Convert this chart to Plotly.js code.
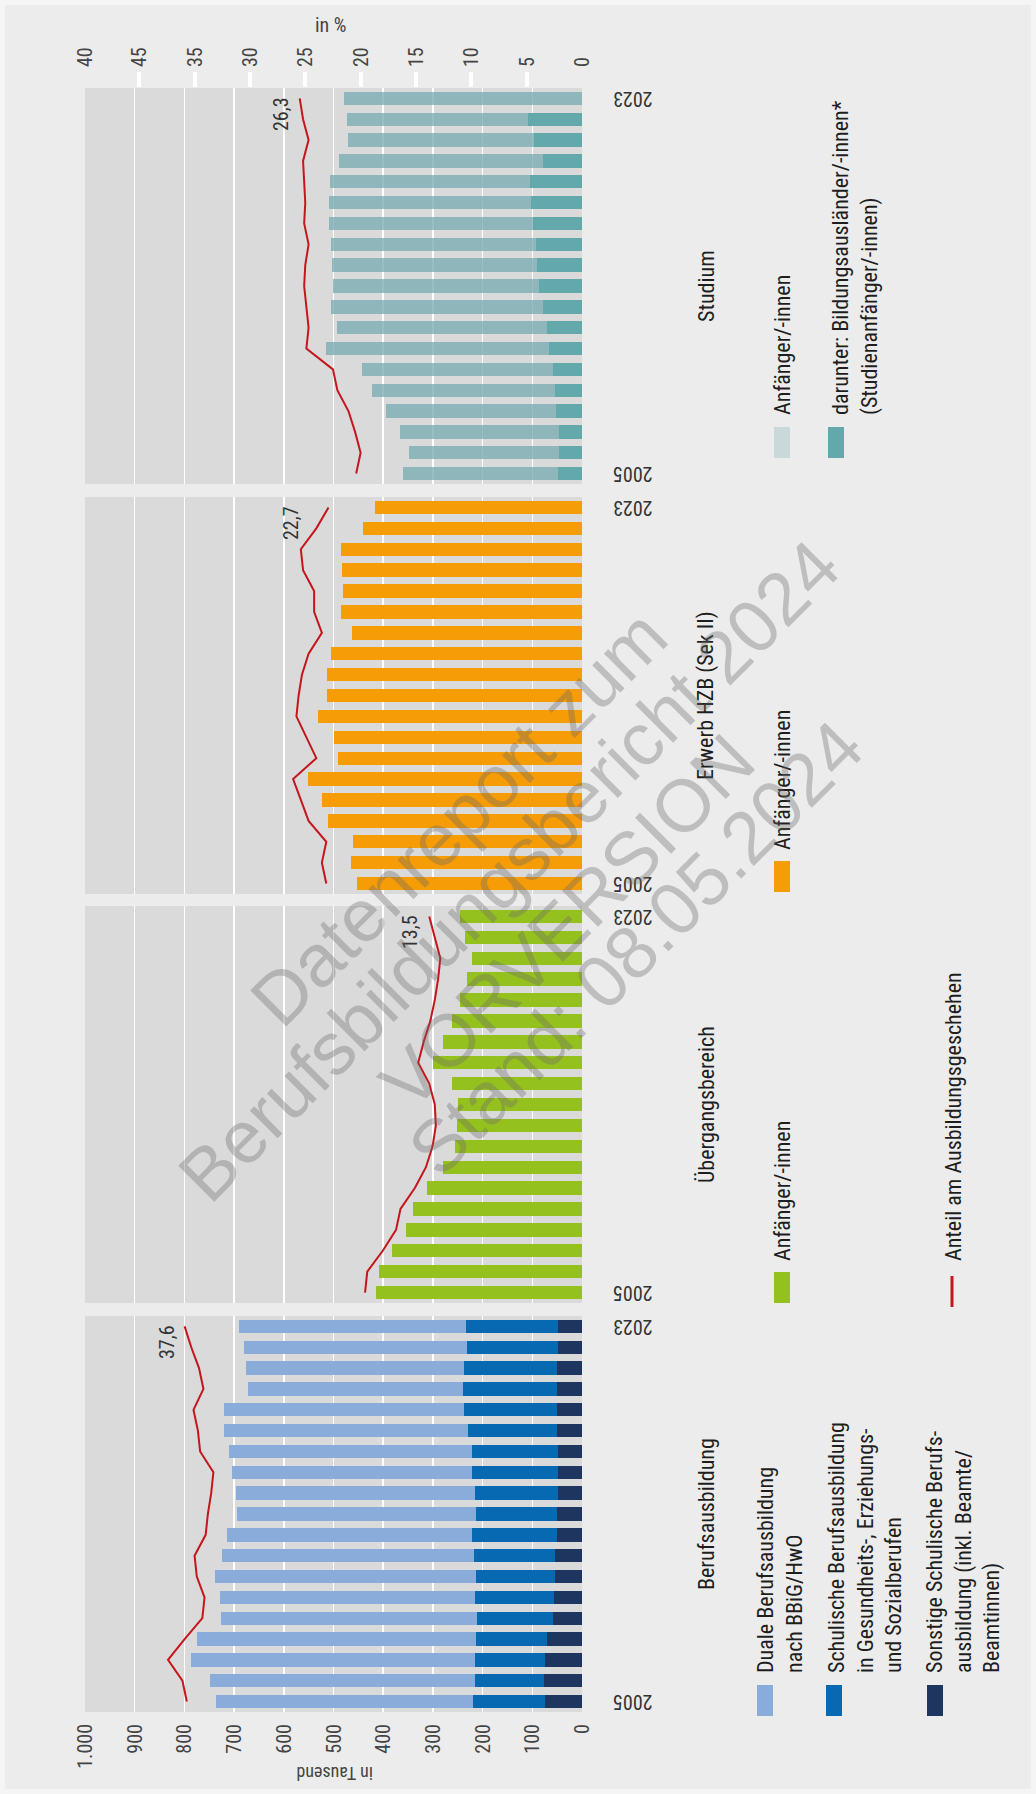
<!DOCTYPE html>
<html><head><meta charset="utf-8">
<script src="https://cdn.plot.ly/plotly-3.0.1.min.js"></script>
<style>
html,body{margin:0;padding:0;background:#ececec;overflow:hidden;width:1036px;height:1794px;}
#wrap{position:absolute;left:0;top:0;width:1794px;height:1036px;transform-origin:0 0;transform:translateY(1794px) rotate(-90deg);}
#chart{width:1794px;height:1036px;}
#frame{position:absolute;left:0;top:0;width:1036px;height:1794px;box-sizing:border-box;border:5px solid #f5f5f5;pointer-events:none;}
</style></head><body><div id="wrap"><div id="chart"></div></div><div id="frame"></div>
<script>
// ---------- DATA ----------
const years = [2005,2006,2007,2008,2009,2010,2011,2012,2013,2014,2015,2016,2017,2018,2019,2020,2021,2022,2023];
// Berufsausbildung (in Tausend)
const dualeBBiG        = [518,533,570,561,514,512,525,506,493,482,481,483,489,492,484,433,440,449,457];
const schulischeGES    = [144,140,142,142,153,159,160,164,171,163,167,173,174,179,187,189,187,184,186];
const sonstigeSchul    = [75,76,74,71,59,57,54,54,50,50,48,49,48,50,50,50,50,48,48];
// Übergangsbereich
const uebergang        = [414,409,383,355,341,312,279,256,251,249,262,299,279,261,246,231,221,236,246];
// Erwerb HZB (Sek II)
const hzb              = [452,464,461,512,524,552,491,500,532,514,514,506,462,485,480,483,484,441,416];
// Studium
const studium          = [360,349,367,394,423,442,516,493,505,502,504,506,510,510,507,488,470,472,479];
const bildungsauslaender = [49,46,47,52,54,59,66,71,79,86,91,93,98,103,105,79,96,108,null];
// Anteil am Ausbildungsgeschehen (in %)
const anteilBerufsausb = [35.7,36.1,37.4,35.9,34.3,34.1,34.8,35.0,34.0,33.8,33.5,33.3,34.5,34.7,35.1,34.2,34.6,35.3,35.9];
const anteilUebergang  = [19.6,19.4,18.0,16.8,16.4,15.1,14.1,13.5,13.2,13.3,13.8,14.8,14.3,13.7,13.3,13.0,12.8,13.3,13.8];
const anteilHZB        = [23.1,23.5,23.1,24.7,25.4,26.1,24.0,24.9,25.8,25.6,25.3,24.7,23.5,24.2,24.2,25.2,25.4,24.0,22.9];
const anteilStudium    = [20.4,20.0,20.5,21.1,22.1,22.5,24.9,24.7,24.9,25.1,25.0,24.7,25.1,25.0,25.1,25.2,24.7,25.2,25.5];
const anteilLabels2023 = [37.6,13.5,22.7,26.3];
// Axes
const yearTickVals = [2005,2023];
const yearTickText = ['2005','2023'];
const thousandTickVals = [0,100,200,300,400,500,600,700,800,900,1000];
const thousandTickText = ['0','100','200','300','400','500','600','700','800','900','1.000'];
const pctTickVals = [0,5,10,15,20,25,30,35,40,44.9];
const pctTickText = ['0','5','10','15','20','25','30','35','45','40'];
const pctMarkVals = [5,10,15,20,25,30,35,40];
const pctMax = 44.9;

// ---------- STYLE / GEOMETRY (landscape, then rotated) ----------
const W = 1794, H = 1036;
const ML = 82, MR = 88, MT = 85, MB = 454;
const PW = W - ML - MR, PH = H - MT - MB;
const FN = '"Liberation Sans Narrow", "Roboto Condensed", "Arial Narrow", sans-serif';
const FW = '"Liberation Sans", Arial, sans-serif';
const RED = '#c4161c';
const px = (X) => (X - ML) / PW;
const py = (Y) => (MT + PH - Y) / PH;
const panels = [[82,478],[491,888],[900,1297],[1310,1706]];
const dom = panels.map(p => [px(p[0]), px(p[1])]);

const traces = [];
function bar(y, color, xa, ya, extra) {
  return Object.assign({type:'bar', x: years, y: y, xaxis: xa, yaxis: ya,
    marker:{color: color, line:{width:0}}, showlegend:false, hoverinfo:'skip'}, extra||{});
}
function line(y, xa, ya) {
  return {type:'scatter', mode:'lines', x: years, y: y, xaxis: xa, yaxis: ya,
    line:{color: RED, width: 2}, showlegend:false, hoverinfo:'skip'};
}
traces.push(bar(sonstigeSchul, '#1d355f', 'x', 'y'));
traces.push(bar(schulischeGES, '#0869b3', 'x', 'y'));
traces.push(bar(dualeBBiG, '#8aacda', 'x', 'y'));
traces.push(line(anteilBerufsausb, 'x', 'y5'));
traces.push(bar(uebergang, '#95c11f', 'x2', 'y2'));
traces.push(line(anteilUebergang, 'x2', 'y6'));
traces.push(bar(hzb, '#f59c07', 'x3', 'y3'));
traces.push(line(anteilHZB, 'x3', 'y7'));
traces.push(bar(bildungsauslaender.map(v => v == null ? 0 : v), '#63a8aa', 'x4', 'y4'));
traces.push(bar(studium.map((v,i) => v - (bildungsauslaender[i] || 0)), 'rgba(118,170,175,0.75)', 'x4', 'y4'));
traces.push(line(anteilStudium, 'x4', 'y8'));
traces.push({type:'scatter', mode:'lines', x:[], y:[], xaxis:'x4', yaxis:'y9', showlegend:false, hoverinfo:'skip'});

const layout = {
  width: W, height: H,
  margin: {l: ML, r: MR, t: MT, b: MB, pad: 0},
  paper_bgcolor: '#ececec', plot_bgcolor: '#dadada',
  barmode: 'stack', bargap: 0.36,
  showlegend: false,
  font: {family: FN, size: 20, color: '#333'},
  annotations: [], shapes: []
};
const xa = ['xaxis','xaxis2','xaxis3','xaxis4'];
const ya = ['yaxis','yaxis2','yaxis3','yaxis4'];
const yids = ['y','y2','y3','y4'];
const xids = ['x','x2','x3','x4'];
for (let i = 0; i < 4; i++) {
  layout[xa[i]] = {domain: dom[i], anchor: yids[i], range:[2004.5, 2023.5], fixedrange:true,
    tickmode:'array', tickvals: yearTickVals, ticktext: yearTickText, tickangle: -90,
    ticks:'', ticklabelstandoff: 26, showgrid:false, zeroline:false, showline:false,
    tickfont:{family: FN, size: 20, color:'#333'}};
  layout[ya[i]] = {domain:[0,1], anchor: xids[i], range:[0,1000], fixedrange:true,
    tickmode:'array', tickvals: thousandTickVals, ticktext: thousandTickText,
    showticklabels: i === 0, ticks:'', ticklabelstandoff: 11,
    showgrid:true, gridcolor:'#ffffff', gridwidth:1.5, zeroline:false, showline:false,
    tickfont:{family: FN, size: 20, color:'#444'}};
}
layout.yaxis5 = {overlaying:'y', anchor:'x', range:[0,pctMax], visible:false};
layout.yaxis6 = {overlaying:'y2', anchor:'x2', range:[0,pctMax], visible:false};
layout.yaxis7 = {overlaying:'y3', anchor:'x3', range:[0,pctMax], visible:false};
layout.yaxis8 = {overlaying:'y4', anchor:'x4', side:'right', range:[0,pctMax],
  tickmode:'array', tickvals: pctTickVals, ticktext: pctTickText, ticks:'', ticklabelstandoff: 20,
  showgrid:false, zeroline:false, showline:false, tickfont:{family: FN, size: 20, color:'#444'}};
layout.yaxis9 = {overlaying:'y4', anchor:'x4', side:'right', range:[0,pctMax],
  tickmode:'array', tickvals: pctMarkVals, showticklabels:false, ticks:'outside', ticklen:15,
  tickwidth:4, tickcolor:'#ffffff', showgrid:false, zeroline:false, showline:false};

// helpers
function ann(text, X, Y, o) {
  return Object.assign({xref:'paper', yref:'paper', x: px(X), y: py(Y), text: text, showarrow:false,
    font:{family: FN, size: 22, color:'#1e1e1e'}, xanchor:'center', yanchor:'middle'}, o||{});
}
function rect(X0, X1, Y0, Y1, color) {
  return {type:'rect', xref:'paper', yref:'paper', x0: px(X0), x1: px(X1), y0: py(Y1), y1: py(Y0),
    fillcolor: color, line:{width:0}};
}
const A = layout.annotations, S = layout.shapes;

// end labels
const pctAxes = ['y5','y6','y7','y8'];
const labelShift = [4, 5, 24, 5];
const lastVals = [anteilBerufsausb, anteilUebergang, anteilHZB, anteilStudium].map(a => a[a.length-1]);
for (let i = 0; i < 4; i++) {
  A.push({xref: xids[i], yref: pctAxes[i], x: years[years.length-1], y: lastVals[i],
    text: anteilLabels2023[i].toFixed(1).replace('.', ','), showarrow:false,
    xanchor:'right', yanchor:'bottom', xshift: 3, yshift: labelShift[i],
    font:{family: FN, size: 20, color:'#333'}});
}
// axis titles
A.push(ann('in Tausend', 20, 335, {textangle:-90, font:{family: FN, size: 18, color:'#444'}}));
A.push(ann('in %', 1769, 331, {textangle:90, font:{family: FN, size: 20, color:'#444'}}));

// group titles
const groupTitles = ['Berufsausbildung', 'Übergangsbereich', 'Erwerb HZB (Sek II)', 'Studium'];
for (let i = 0; i < 4; i++) {
  A.push(ann(groupTitles[i], (panels[i][0] + panels[i][1]) / 2, 706));
}
// legend: Berufsausbildung
S.push(rect(78, 109, 757, 773, '#8aacda'));
A.push(ann('Duale Berufsausbildung<br>nach BBiG/HwO', 119, 751, {xanchor:'left', yanchor:'top', align:'left'}));
S.push(rect(78, 109, 826, 842, '#0869b3'));
A.push(ann('Schulische Berufsausbildung<br>in Gesundheits-, Erziehungs-<br>und Sozialberufen', 119, 822, {xanchor:'left', yanchor:'top', align:'left'}));
S.push(rect(78, 109, 927, 943, '#1d355f'));
A.push(ann('Sonstige Schulische Berufs-<br>ausbildung (inkl. Beamte/<br>Beamtinnen)', 119, 920, {xanchor:'left', yanchor:'top', align:'left'}));
// Übergangsbereich
S.push(rect(491, 522, 774, 790, '#95c11f'));
A.push(ann('Anfänger/-innen', 531, 782, {xanchor:'left'}));
S.push({type:'line', xref:'paper', yref:'paper', x0: px(487), x1: px(518), y0: py(952), y1: py(952), line:{color: RED, width: 3}});
A.push(ann('Anteil am Ausbildungsgeschehen', 531, 953, {xanchor:'left'}));
// HZB
S.push(rect(902, 933, 774, 790, '#f59c07'));
A.push(ann('Anfänger/-innen', 942, 782, {xanchor:'left'}));
// Studium
S.push(rect(1336, 1367, 774, 790, '#c9d9da'));
A.push(ann('Anfänger/-innen', 1377, 782, {xanchor:'left'}));
S.push(rect(1336, 1367, 828, 844, '#63a8aa'));
A.push(ann('darunter: Bildungsausländer/-innen*<br>(Studienanfänger/-innen)', 1377, 826, {xanchor:'left', yanchor:'top', align:'left'}));

// watermark
const wm = [['Datenreport zum', 976, 458], ['Berufsbildungsbericht 2024', 924, 509], ['VORVERSION', 873, 567], ['Stand: 08.05.2024', 846, 635]];
wm.forEach(w => A.push(ann(w[0], w[1], w[2], {textangle: 45, font:{family: FW, size: 74, color:'rgba(105,105,105,0.35)'}})));

Plotly.newPlot('chart', traces, layout, {staticPlot: true, displayModeBar: false});
</script></body></html>
